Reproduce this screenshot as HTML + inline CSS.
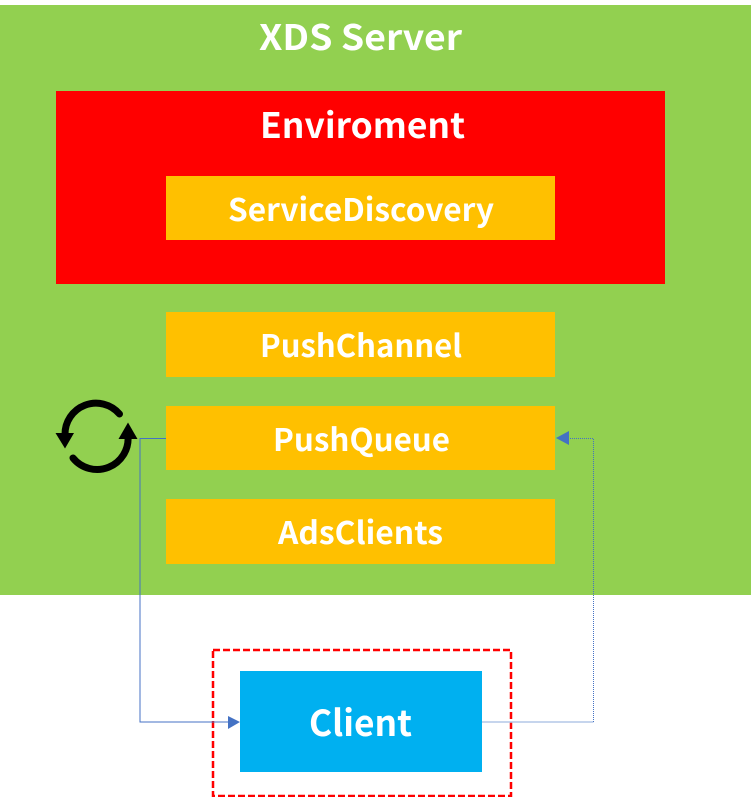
<!DOCTYPE html>
<html>
<head>
<meta charset="utf-8">
<style>
html,body{margin:0;padding:0;background:#fff}
svg{display:block}
text{font-family:"Noto Sans CJK KR","Liberation Sans",sans-serif;font-weight:700;fill:#fff;font-size:35px}
</style>
</head>
<body>
<svg width="751" height="797" viewBox="0 0 751 797" xmlns="http://www.w3.org/2000/svg">
<rect width="751" height="797" fill="#fff"/>
<rect x="0" y="5" width="751" height="590" fill="#92d050"/>
<rect x="56" y="91" width="609" height="193" fill="#ff0000"/>
<rect x="166" y="176" width="389" height="64" fill="#ffc000"/>
<rect x="166" y="312" width="389" height="65" fill="#ffc000"/>
<rect x="166" y="406" width="389" height="64" fill="#ffc000"/>
<rect x="166" y="499" width="389" height="65" fill="#ffc000"/>
<rect x="240" y="671" width="242" height="101" fill="#00b0f0"/>
<rect x="213" y="650" width="298" height="146" fill="none" stroke="#ff0000" stroke-width="2.500" stroke-dasharray="7 3"/>

<path d="M166 438.500H140V722H230" fill="none" stroke="#4472c4" stroke-width="1"/>
<path d="M228 716L240 722L228 729Z" fill="#4472c4"/>
<path d="M482 722H593.500" fill="none" stroke="#b4c7e7" stroke-width="1.500"/>
<path d="M593.500 722V438.500H567" fill="none" stroke="#4472c4" stroke-width="1" stroke-dasharray="1 1"/>
<path d="M569 431L556 438L569 445Z" fill="#4472c4"/>

<path d="M119.500 414A31 31 0 0 0 65 435" fill="none" stroke="#000" stroke-width="7" stroke-linecap="round"/>
<path d="M55.500 433H74L65 448.500Z" fill="#000"/>
<path d="M73 458A31 31 0 0 0 128 436" fill="none" stroke="#000" stroke-width="7" stroke-linecap="round"/>
<path d="M118.500 439H137.500L128 422.500Z" fill="#000"/>

<text x="259" y="50" textLength="203" lengthAdjust="spacingAndGlyphs">XDS Server</text>
<text x="260" y="138" textLength="205" lengthAdjust="spacingAndGlyphs">Enviroment</text>
<text x="228" y="221" textLength="266" lengthAdjust="spacingAndGlyphs" style="font-size:31px">ServiceDiscovery</text>
<text x="260" y="357" textLength="202" lengthAdjust="spacingAndGlyphs" style="font-size:31px">PushChannel</text>
<text x="273" y="451" textLength="177" lengthAdjust="spacingAndGlyphs" style="font-size:31px">PushQueue</text>
<text x="278" y="544" textLength="165" lengthAdjust="spacingAndGlyphs" style="font-size:31px">AdsClients</text>
<text x="309" y="736" textLength="103" lengthAdjust="spacingAndGlyphs" style="font-size:36px">Client</text>
</svg>
</body>
</html>
